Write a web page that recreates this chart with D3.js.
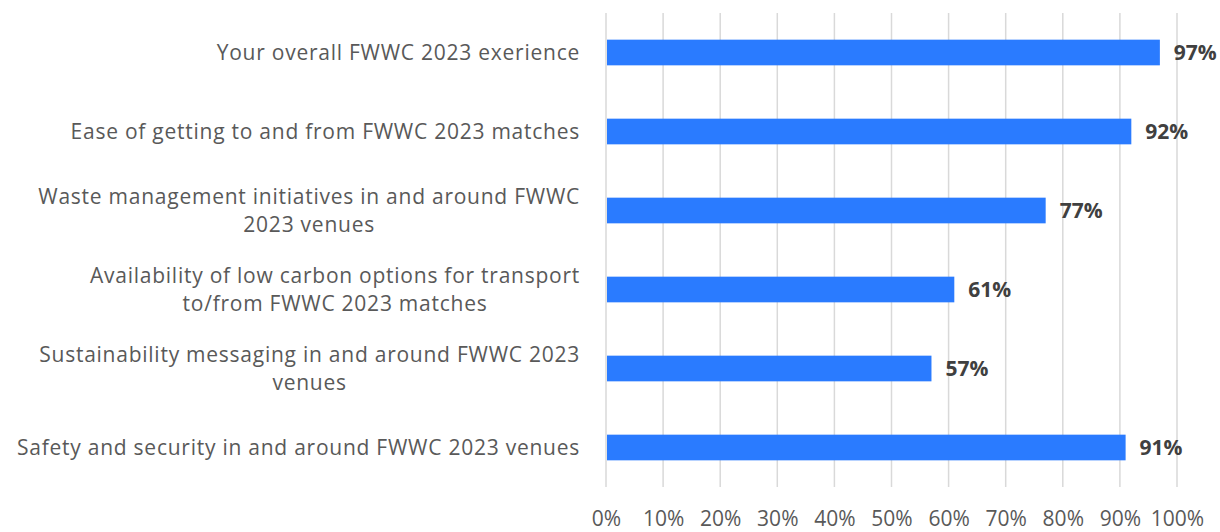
<!DOCTYPE html>
<html>
<head>
<meta charset="utf-8">
<script src="https://cdn.jsdelivr.net/npm/d3@7"></script>
<style>
  body { margin: 0; background: #fff; }
  svg text { font-family: "Open Sans", "Liberation Sans", sans-serif; }
</style>
</head>
<body>
<div id="chart"></div>
<script>
// chart data
var categories = [
    "Your overall FWWC 2023 exerience",
    "Ease of getting to and from FWWC 2023 matches",
    "Waste management initiatives in and around FWWC 2023 venues",
    "Availability of low carbon options for transport to/from FWWC 2023 matches",
    "Sustainability messaging in and around FWWC 2023 venues",
    "Safety and security in and around FWWC 2023 venues"
];
var values = [97, 92, 77, 61, 57, 91];
var tickValues = [0, 10, 20, 30, 40, 50, 60, 70, 80, 90, 100];

var svgWidth = 1220;
var svgHeight = 532;

var margins = {
    top: 13,
    bottom: 45,
    left: 606,
    right: 43
};

var width = svgWidth - margins.left - margins.right;
var height = svgHeight - margins.top - margins.bottom;

var svg = d3.select("#chart")
    .append("svg")
    .attr("width", svgWidth)
    .attr("height", svgHeight);

var group = svg.append("g")
    .attr("transform", `translate(${margins.left}, ${margins.top})`);

var xScale = d3.scaleLinear()
    .domain([0, 100])
    .range([0, width]);

var yScale = d3.scaleBand()
    .domain(categories)
    .range([0, height])
    .paddingInner(0.675)
    .paddingOuter(0.3375);

//gridlines
group.selectAll(".grid")
    .data(tickValues)
    .enter()
    .append("line")
    .attr("x1", d => xScale(d))
    .attr("x2", d => xScale(d))
    .attr("y1", 0)
    .attr("y2", height)
    .attr("stroke", "#d9d9d9")
    .attr("stroke-width", 1.5);

//x tick labels
var xAxis = d3.axisBottom(xScale)
    .tickValues(tickValues)
    .tickFormat(d => d + "%")
    .tickSize(0)
    .tickPadding(24);

var xAxisGroup = group.append("g")
    .attr("transform", `translate(0, ${height})`)
    .call(xAxis);
xAxisGroup.select(".domain").remove();
xAxisGroup.selectAll("text")
    .attr("fill", "#595959")
    .style("font-size", "21px");

//bars
group.selectAll(".bar")
    .data(values)
    .enter()
    .append("rect")
    .attr("x", xScale(0) + 1)
    .attr("y", (d, i) => yScale(categories[i]))
    .attr("width", d => xScale(d) - xScale(0) - 1)
    .attr("height", yScale.bandwidth())
    .attr("fill", "#2a7bff");

//value labels
group.selectAll(".valueLabel")
    .data(values)
    .enter()
    .append("text")
    .attr("x", d => xScale(d) + 14)
    .attr("y", (d, i) => yScale(categories[i]) + yScale.bandwidth() / 2)
    .attr("dy", "0.35em")
    .attr("fill", "#404040")
    .style("font-size", "21px")
    .style("font-weight", "bold")
    .text(d => d + "%");

//category labels, wrapped and centred like Excel does
var maxLabel = 566;
var labelRight = -26;

categories.forEach(function(cat, i) {
    var t = group.append("text")
        .attr("fill", "#595959")
        .style("font-size", "21px")
        .style("letter-spacing", "0.75px");
    var words = cat.split(" ");
    var lines = [];
    var line = [];
    words.forEach(function(w) {
        line.push(w);
        t.text(line.join(" "));
        if (t.node().getComputedTextLength() > maxLabel && line.length > 1) {
            line.pop();
            lines.push(line.join(" "));
            line = [w];
        }
    });
    lines.push(line.join(" "));
    t.text(null);

    var widths = lines.map(function(l) {
        t.text(l);
        return t.node().getComputedTextLength();
    });
    t.text(null);
    var blockWidth = d3.max(widths);
    var cx = labelRight - blockWidth / 2;
    var lineHeight = 28;
    var cy = yScale(cat) + yScale.bandwidth() / 2 - (lines.length - 1) * lineHeight / 2;

    t.attr("text-anchor", "middle");
    lines.forEach(function(l, j) {
        t.append("tspan")
            .attr("x", cx)
            .attr("y", cy + j * lineHeight)
            .attr("dy", "0.35em")
            .text(l);
    });
});
</script>
</body>
</html>
